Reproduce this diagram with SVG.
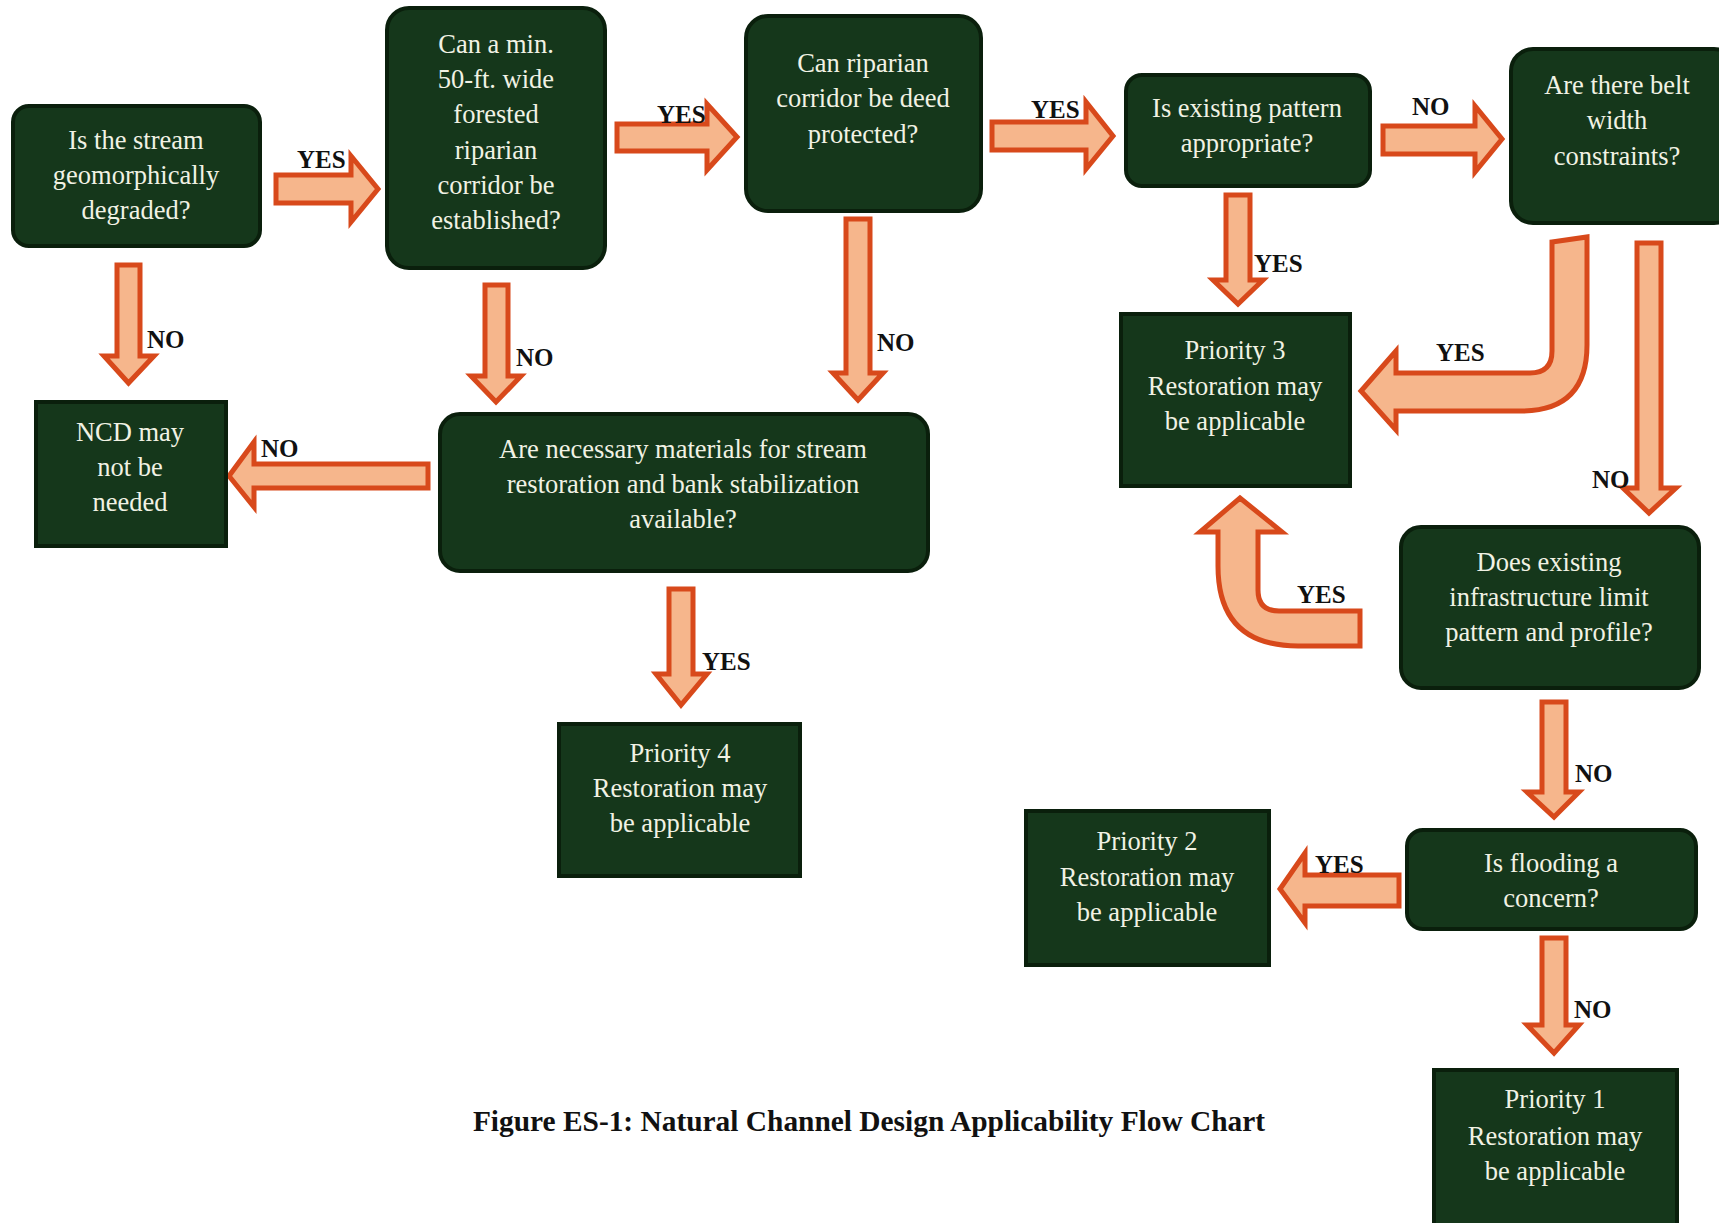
<svg xmlns="http://www.w3.org/2000/svg" width="1719" height="1223" viewBox="0 0 1719 1223">
<style>
.box{fill:#15371b;stroke:#0a1f0c;stroke-width:4}
.arrow{fill:#f6b68c;stroke:#d8491b;stroke-width:5;stroke-linejoin:miter}
.t{font-family:"Liberation Serif","Times New Roman",serif;font-size:26.5px;fill:#f1f2e4;text-anchor:middle}
.lbl{font-family:"Liberation Serif","Times New Roman",serif;font-size:25px;font-weight:bold;fill:#111}
.cap{font-family:"Liberation Serif","Times New Roman",serif;font-size:29.4px;font-weight:bold;fill:#111;text-anchor:middle}
</style>
<rect width="1719" height="1223" fill="#ffffff"/>
<g id="connectors">
<path class="arrow" d="M276,175 L351,175 L351,156 L378,189 L351,222 L351,203 L276,203 Z"/>
<path class="arrow" d="M617,124 L707,124 L707,104 L737,137 L707,170 L707,151 L617,151 Z"/>
<path class="arrow" d="M992,122 L1086,122 L1086,102 L1113,136 L1086,169 L1086,150 L992,150 Z"/>
<path class="arrow" d="M1383,126 L1475,126 L1475,106 L1502,139 L1475,172 L1475,154 L1383,154 Z"/>
<path class="arrow" d="M117,265 L140,265 L140,356 L154,356 L128.5,383 L104,356 L117,356 Z"/>
<path class="arrow" d="M485,285 L508,285 L508,376 L521,376 L496,402 L471,376 L485,376 Z"/>
<path class="arrow" d="M846,219 L870,219 L870,373 L883,373 L858,400 L833,373 L846,373 Z"/>
<path class="arrow" d="M428,464 L428,488 L254,488 L254,507 L229,476 L254,442 L254,464 Z"/>
<path class="arrow" d="M669,589 L693,589 L693,674 L707,674 L681,705 L656,674 L669,674 Z"/>
<path class="arrow" d="M1226,195 L1250,195 L1250,280 L1263,280 L1238,304 L1213,280 L1226,280 Z"/>
<path class="arrow" d="M1552,242 L1587,237 L1587,345 Q1587,411 1521,411 L1396,411 L1396,430 L1361,391 L1396,351 L1396,373 L1530,373 Q1552,373 1552,351 Z"/>
<path class="arrow" d="M1637,243 L1661,243 L1661,488 L1676,488 L1649,513 L1623,488 L1637,488 Z"/>
<path class="arrow" d="M1360,611 L1360,646 L1298,646 Q1218,646 1218,566 L1218,532 L1200,532 L1240,498 L1282,532 L1258,532 L1258,590 Q1258,611 1279,611 Z"/>
<path class="arrow" d="M1542,702 L1566,702 L1566,792 L1579,792 L1554,817 L1527,792 L1542,792 Z"/>
<path class="arrow" d="M1399,875 L1399,906 L1305,906 L1305,923 L1280,889 L1305,853 L1305,875 Z"/>
<path class="arrow" d="M1542,938 L1566,938 L1566,1025 L1579,1025 L1554,1053 L1527,1025 L1542,1025 Z"/>
<text class="lbl" x="297" y="168">YES</text>
<text class="lbl" x="657" y="123">YES</text>
<text class="lbl" x="1031" y="118">YES</text>
<text class="lbl" x="1412" y="115">NO</text>
<text class="lbl" x="147" y="348">NO</text>
<text class="lbl" x="516" y="366">NO</text>
<text class="lbl" x="877" y="351">NO</text>
<text class="lbl" x="261" y="457">NO</text>
<text class="lbl" x="702" y="670">YES</text>
<text class="lbl" x="1254" y="272">YES</text>
<text class="lbl" x="1436" y="361">YES</text>
<text class="lbl" x="1592" y="488">NO</text>
<text class="lbl" x="1297" y="603">YES</text>
<text class="lbl" x="1575" y="782">NO</text>
<text class="lbl" x="1315" y="873">YES</text>
<text class="lbl" x="1574" y="1018">NO</text>
</g>
<g id="n1"><rect class="box" x="13" y="106" width="247" height="140" rx="16"/>
<text class="t" x="136" y="149">Is the stream</text><text class="t" x="136" y="184">geomorphically</text><text class="t" x="136" y="219">degraded?</text></g>
<g id="n2"><rect class="box" x="387" y="8" width="218" height="260" rx="22"/>
<text class="t" x="496" y="53">Can a min.</text><text class="t" x="496" y="88">50-ft. wide</text><text class="t" x="496" y="123">forested</text><text class="t" x="496" y="159">riparian</text><text class="t" x="496" y="194">corridor be</text><text class="t" x="496" y="229">established?</text></g>
<g id="n3"><rect class="box" x="746" y="16" width="235" height="195" rx="22"/>
<text class="t" x="863" y="72">Can riparian</text><text class="t" x="863" y="107">corridor be deed</text><text class="t" x="863" y="143">protected?</text></g>
<g id="n4"><rect class="box" x="1126" y="75" width="244" height="111" rx="16"/>
<text class="t" x="1247" y="117">Is existing pattern</text><text class="t" x="1247" y="152">appropriate?</text></g>
<g id="n5"><rect class="box" x="1511" y="49" width="225" height="174" rx="22"/>
<text class="t" x="1617" y="94">Are there belt</text><text class="t" x="1617" y="129">width</text><text class="t" x="1617" y="165">constraints?</text></g>
<g id="n6"><rect class="box" x="36" y="402" width="190" height="144"/>
<text class="t" x="130" y="441">NCD may</text><text class="t" x="130" y="476">not be</text><text class="t" x="130" y="511">needed</text></g>
<g id="n7"><rect class="box" x="440" y="414" width="488" height="157" rx="20"/>
<text class="t" x="683" y="458">Are necessary materials for stream</text><text class="t" x="683" y="493">restoration and bank stabilization</text><text class="t" x="683" y="528">available?</text></g>
<g id="n8"><rect class="box" x="559" y="724" width="241" height="152"/>
<text class="t" x="680" y="762">Priority 4</text><text class="t" x="680" y="797">Restoration may</text><text class="t" x="680" y="832">be applicable</text></g>
<g id="n9"><rect class="box" x="1121" y="314" width="229" height="172"/>
<text class="t" x="1235" y="359">Priority 3</text><text class="t" x="1235" y="395">Restoration may</text><text class="t" x="1235" y="430">be applicable</text></g>
<g id="n10"><rect class="box" x="1401" y="527" width="298" height="161" rx="20"/>
<text class="t" x="1549" y="571">Does existing</text><text class="t" x="1549" y="606">infrastructure limit</text><text class="t" x="1549" y="641">pattern and profile?</text></g>
<g id="n11"><rect class="box" x="1407" y="830" width="289" height="99" rx="16"/>
<text class="t" x="1551" y="872">Is flooding a</text><text class="t" x="1551" y="907">concern?</text></g>
<g id="n12"><rect class="box" x="1026" y="811" width="243" height="154"/>
<text class="t" x="1147" y="850">Priority 2</text><text class="t" x="1147" y="886">Restoration may</text><text class="t" x="1147" y="921">be applicable</text></g>
<g id="n13"><rect class="box" x="1434" y="1070" width="243" height="165"/>
<text class="t" x="1555" y="1108">Priority 1</text><text class="t" x="1555" y="1145">Restoration may</text><text class="t" x="1555" y="1180">be applicable</text></g>
<text class="cap" x="869" y="1131">Figure ES-1: Natural Channel Design Applicability Flow Chart</text>
</svg>
